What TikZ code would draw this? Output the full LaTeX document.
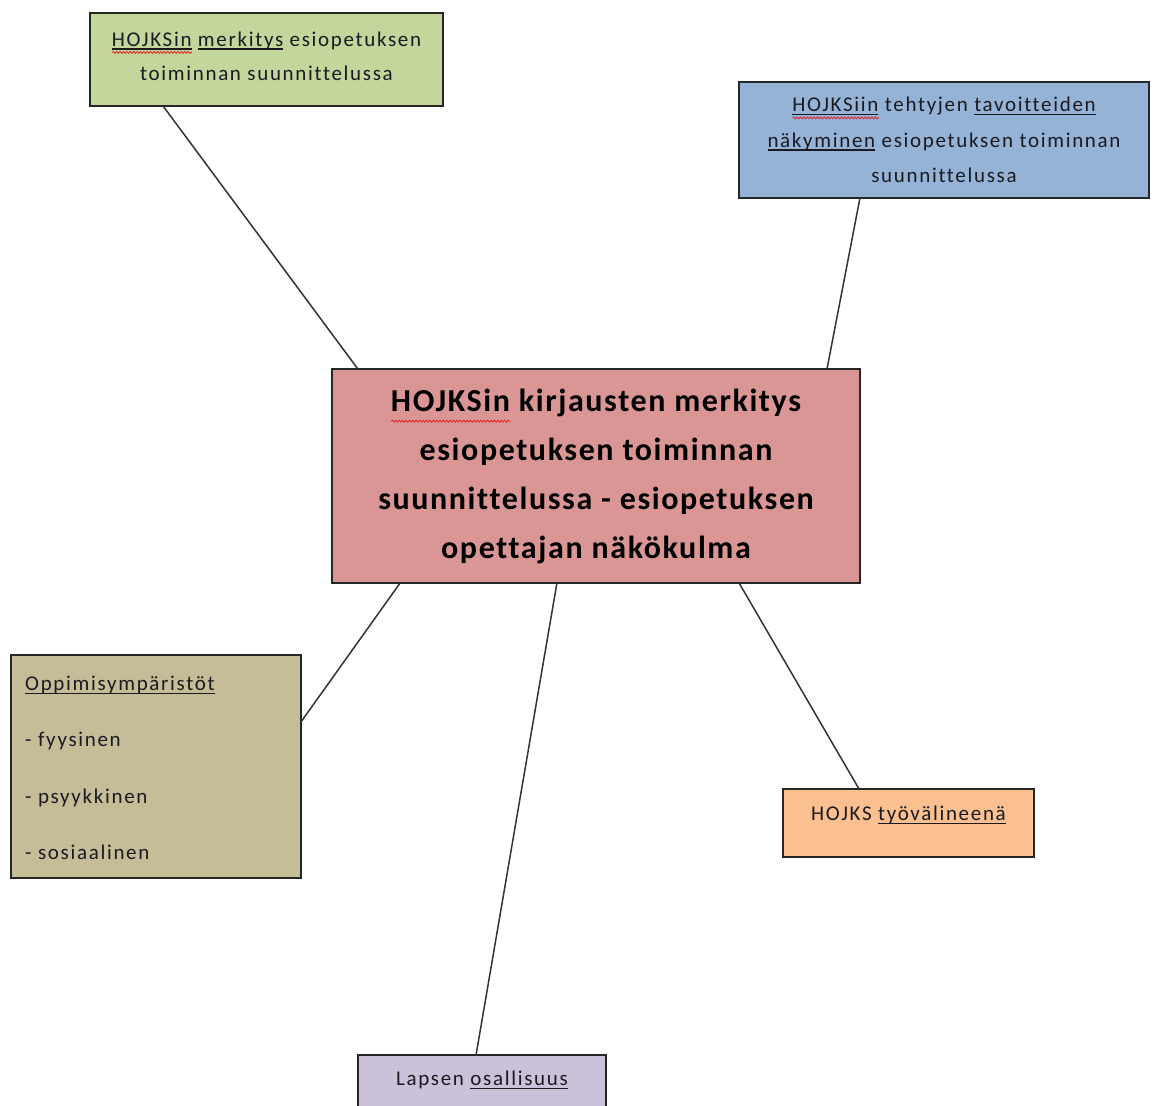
\documentclass[tikz,border=0pt]{standalone}
\usepackage{fontspec}
\setmainfont{Carlito}
\newfontfamily\boxfont{Carlito}[LetterSpace=8, Ligatures=NoCommon]
\newfontfamily\titlefont{Carlito}[LetterSpace=5, Ligatures=NoCommon]
\usetikzlibrary{decorations.pathmorphing,calc}

\definecolor{boxgreen}{HTML}{C3D69B}
\definecolor{boxblue}{HTML}{95B3D7}
\definecolor{boxrose}{HTML}{D99694}
\definecolor{boxolive}{HTML}{C4BD97}
\definecolor{boxorange}{HTML}{FAC090}
\definecolor{boxlilac}{HTML}{CCC1DA}
\definecolor{ink}{HTML}{1A1A20}
\definecolor{spellred}{HTML}{E02020}

% underlined word (fixed distance below the baseline)
\newsavebox\ulbox
\newcommand\ulword[1]{\leavevmode\sbox\ulbox{#1}%
  \rlap{\rule[-0.16em]{\wd\ulbox}{0.06em}}\usebox\ulbox}

% word with a red wavy line underneath
\newsavebox\sqbox
\newlength\sqlen
\newcommand\sqword[1]{\leavevmode\sbox\sqbox{#1}\setlength\sqlen{\wd\sqbox}%
  \rlap{\raisebox{-0.36em}[0pt][0pt]{\tikz\draw[spell] (0pt,0pt) -- (\sqlen,0pt);}}%
  \usebox\sqbox}

\tikzset{
  spell/.style={draw=spellred, line width=0.8pt, decorate,
    decoration={snake, amplitude=1pt, segment length=3.4pt}},
  box/.style={draw=black!85, line width=1.4pt, rectangle, inner sep=0pt,
    outer sep=0pt, text=ink},
  link/.style={draw=black!80, line width=1.5pt},
  small/.style={font=\boxfont\fontsize{21}{34}\selectfont, text=ink},
}

\begin{document}
\begin{tikzpicture}[x=1pt,y=1pt]
\useasboundingbox (0,0) rectangle (1160,-1106);
\clip (0,0) rectangle (1160,-1106);

% boxes
\node[box, fill=boxgreen, minimum width=353pt, minimum height=93pt]
  (goal) at (266.5,-59.5) {};
\node[small, align=center, inner sep=0pt] (goaltext) at (266.5,-56)
  {\sqword{\ulword{HOJKSin}} \ulword{merkitys} esiopetuksen\\toiminnan suunnittelussa};

\node[box, small, fill=boxblue, minimum width=410pt, minimum height=116pt, align=center,
  font=\boxfont\fontsize{21}{35.5}\selectfont]
  (aims) at (944,-140)
  {\sqword{\ulword{HOJKSiin}} tehtyjen \ulword{tavoitteiden}\\
   \ulword{näkyminen} esiopetuksen toiminnan\\suunnittelussa};

\node[box, fill=boxrose, minimum width=528pt, minimum height=214pt, align=center,
  font=\titlefont\bfseries\fontsize{32}{49}\selectfont, text=black]
  (core) at (596,-476)
  {\sqword{HOJKSin} kirjausten merkitys\\esiopetuksen toiminnan\\
   suunnittelussa - esiopetuksen\\opettajan näkökulma};

\node[box, fill=boxolive, minimum width=290pt, minimum height=223pt]
  (env) at (156,-766.5) {};
\node[small, anchor=west, align=left, inner sep=0pt,
  font=\boxfont\fontsize{21}{56.5}\selectfont]
  (envtext) at (25,-768)
  {\ulword{Oppimisympäristöt}\\- fyysinen\\- psyykkinen\\- sosiaalinen};

\node[box, fill=boxorange, minimum width=251pt, minimum height=68pt]
  (tool) at (908.5,-823) {};
\node[small, inner sep=0pt] (tooltext) at (908.5,-815) {HOJKS \ulword{työvälineenä}};

\node[box, fill=boxlilac, minimum width=248pt, minimum height=80pt]
  (child) at (482,-1095) {};
\node[small, inner sep=0pt] (childtext) at (482,-1080) {Lapsen \ulword{osallisuus}};

% connectors
\draw[link] ($(goal.south west)!0.207!(goal.south east)$)
         -- ($(core.north west)!0.049!(core.north east)$);
\draw[link] ($(aims.south west)!0.295!(aims.south east)$)
         -- ($(core.north west)!0.9375!(core.north east)$);
\draw[link] ($(core.south west)!0.129!(core.south east)$)
         -- ($(env.north east)!0.30!(env.south east)$);
\draw[link] ($(core.south west)!0.426!(core.south east)$)
         -- ($(child.north west)!0.476!(child.north east)$);
\draw[link] ($(core.south west)!0.771!(core.south east)$)
         -- ($(tool.north west)!0.303!(tool.north east)$);
\end{tikzpicture}
\end{document}
